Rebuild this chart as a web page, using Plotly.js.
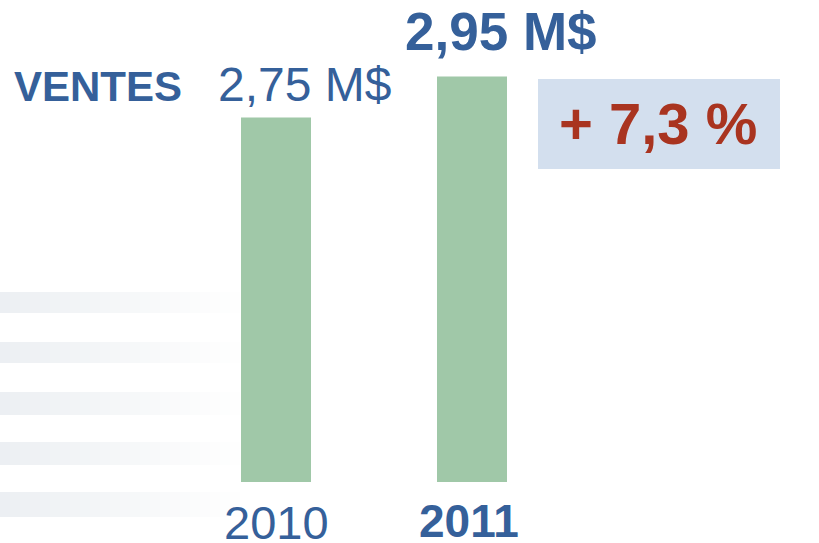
<!DOCTYPE html>
<html>
<head>
<meta charset="utf-8">
<script src="https://cdn.plot.ly/plotly-3.0.1.min.js"></script>
<style>html,body{margin:0;padding:0;background:#fff;}#chart{width:819px;height:543px;}</style>
</head>
<body>
<div id="chart"></div>
<script>
// Data
const years = ['2010', '2011'];
const sales = [2.75, 2.95];           // millions $
const salesLabels = ['2,75 M$', '2,95 M$'];
const growthLabel = '+ 7,3 %';
const seriesName = 'VENTES';

// Geometry helpers (pixels -> paper)
const W = 819, H = 543, MB = 61, PH = H - MB;
const px = x => x / W;
const py = y => (PH - y) / PH;

const blue = '#35609A';
const green = '#A0C8A8';
const red = '#A93420';
const font = 'Liberation Sans, Arial, sans-serif';
const idx = years.map((_, i) => i);

// Background faded stripes
const shapes = [];
const bands = [[292, 313], [342, 363], [392, 415], [442, 465], [492, 517]];
const segs = 24;
bands.forEach(b => {
  for (let i = 0; i < segs; i++) {
    const x0 = i * 10, x1 = x0 + 10;
    shapes.push({
      type: 'rect', xref: 'paper', yref: 'paper', layer: 'below',
      x0: px(x0), x1: px(x1), y0: py(b[1]), y1: py(b[0]),
      line: {width: 0}, fillcolor: '#E2E7EC', opacity: 0.65 * (1 - i / segs)
    });
  }
});
// Growth box
shapes.push({
  type: 'rect', xref: 'paper', yref: 'paper', layer: 'below',
  x0: px(538), x1: px(780), y0: py(169), y1: py(79),
  line: {width: 0}, fillcolor: '#D3DFEE'
});

const annotations = [
  {text: '<b>' + seriesName + '</b>', xref: 'paper', yref: 'paper', x: px(98), y: py(86),
   xanchor: 'center', yanchor: 'middle', showarrow: false, font: {family: font, size: 42, color: blue}},
  {text: '<b>' + growthLabel + '</b>', xref: 'paper', yref: 'paper', x: px(658), y: py(124),
   xanchor: 'center', yanchor: 'middle', showarrow: false, font: {family: font, size: 58, color: red}},
  // value labels
  {text: salesLabels[0], x: idx[0], y: sales[0], xref: 'x', yref: 'y', xanchor: 'center', yanchor: 'bottom',
   xshift: 28, yshift: 4, showarrow: false, font: {family: font, size: 48, color: blue}},
  {text: '<b>' + salesLabels[1] + '</b>', x: idx[1], y: sales[1], xref: 'x', yref: 'y', xanchor: 'center', yanchor: 'bottom',
   xshift: 29, yshift: 13, showarrow: false, font: {family: font, size: 53, color: blue}},
  // category labels
  {text: years[0], x: idx[0], y: py(522), xref: 'x', yref: 'paper', xanchor: 'center', yanchor: 'middle',
   showarrow: false, font: {family: font, size: 47, color: blue}},
  {text: '<b>' + years[1] + '</b>', x: idx[1], y: py(521), xref: 'x', yref: 'paper', xanchor: 'center', yanchor: 'middle',
   xshift: -3, showarrow: false, font: {family: font, size: 46, color: blue}}
];

const trace = {
  type: 'bar', x: idx, y: sales, width: 70 / 196,
  marker: {color: green, line: {width: 0}}, hoverinfo: 'skip'
};

const layout = {
  width: W, height: H,
  margin: {l: 0, r: 0, t: 0, b: MB, pad: 0},
  paper_bgcolor: '#ffffff', plot_bgcolor: 'rgba(0,0,0,0)',
  showlegend: false,
  xaxis: {type: 'linear', range: [-276 / 196, (W - 276) / 196], showticklabels: false,
          showgrid: false, zeroline: false, showline: false, ticks: ''},
  yaxis: {range: [0.97, 0.97 + PH / 204.8], showticklabels: false, showgrid: false,
          zeroline: false, showline: false, ticks: ''},
  shapes: shapes,
  annotations: annotations
};

Plotly.newPlot('chart', [trace], layout, {displayModeBar: false, staticPlot: true});
</script>
</body>
</html>
